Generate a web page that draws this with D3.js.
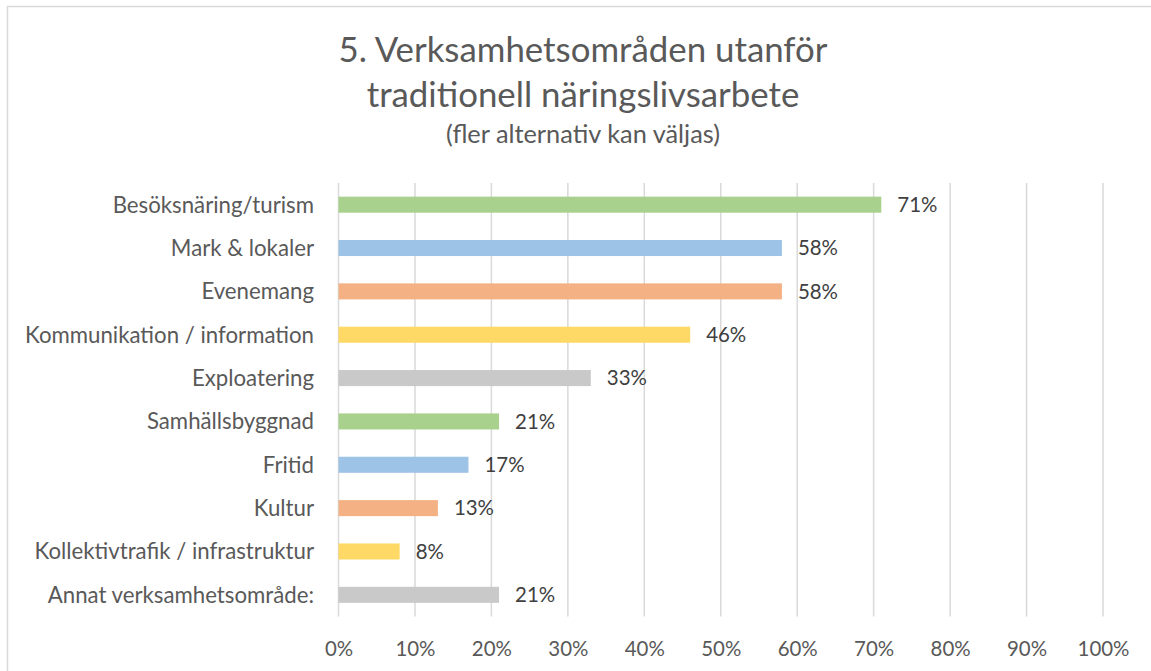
<!DOCTYPE html>
<html>
<head>
<meta charset="utf-8">
<script src="https://cdn.jsdelivr.net/npm/d3@7"></script>
<style>
  html, body { margin: 0; padding: 0; background: #fff; }
  svg { display: block; font-family: Lato, "Open Sans", sans-serif; }
</style>
</head>
<body>
<svg id="chart" width="1151" height="671"></svg>
<script>
const categories = [
  "Besöksnäring/turism",
  "Mark & lokaler",
  "Evenemang",
  "Kommunikation / information",
  "Exploatering",
  "Samhällsbyggnad",
  "Fritid",
  "Kultur",
  "Kollektivtrafik / infrastruktur",
  "Annat verksamhetsområde:"
];
const values = [71, 58, 58, 46, 33, 21, 17, 13, 8, 21];
const barColors = ["#A9D18E", "#9DC3E6", "#F4B183", "#FFD966", "#C9C9C9"];
const tickValues = [0, 10, 20, 30, 40, 50, 60, 70, 80, 90, 100];
const titleLines = ["5. Verksamhetsområden utanför", "traditionell näringslivsarbete"];
const subtitle = "(fler alternativ kan väljas)";

const svg = d3.select("#chart");

// chart border
svg.append("rect")
  .attr("x", 7.5).attr("y", 6.5)
  .attr("width", 1160).attr("height", 700)
  .attr("fill", "#fff").attr("stroke", "#D9D9D9").attr("stroke-width", 1.5);

const plot = { left: 338.5, right: 1103, top: 183, bottom: 616.5 };

const x = d3.scaleLinear().domain([0, 100]).range([plot.left, plot.right]);
const y = d3.scaleBand().domain(categories).range([plot.top, plot.bottom]).paddingInner(0.63).paddingOuter(0.315);

// helper: fit font size so a sample string has a target width
function fitSize(sample, targetWidth) {
  const t = svg.append("text").attr("font-size", 100).text(sample);
  const w = t.node().getComputedTextLength();
  t.remove();
  return 100 * targetWidth / w;
}
const titleSize = fitSize(titleLines[0], 489);
const subSize = fitSize(subtitle, 274);
const catSize = fitSize("Kommunikation / information", 289);
const tickSize = fitSize("100%", 52);

// title
const cx = 583;
svg.append("text").attr("x", cx).attr("y", 62).attr("text-anchor", "middle")
  .attr("font-size", titleSize).attr("fill", "#595959").text(titleLines[0]);
svg.append("text").attr("x", cx).attr("y", 107).attr("text-anchor", "middle")
  .attr("font-size", titleSize).attr("fill", "#595959").text(titleLines[1]);
svg.append("text").attr("x", cx).attr("y", 143).attr("text-anchor", "middle")
  .attr("font-size", subSize).attr("fill", "#595959").text(subtitle);

// gridlines
svg.append("g").selectAll("line").data(tickValues).join("line")
  .attr("x1", d => x(d)).attr("x2", d => x(d))
  .attr("y1", plot.top).attr("y2", plot.bottom)
  .attr("stroke", "#D9D9D9").attr("stroke-width", 1.5);

// x axis tick labels
const xAxis = d3.axisBottom(x).tickValues(tickValues).tickFormat(d => d + "%").tickSize(0).tickPadding(0);
const gx = svg.append("g").attr("transform", `translate(0,${plot.bottom})`).call(xAxis);
gx.select(".domain").remove();
gx.selectAll("text").attr("font-size", tickSize).attr("fill", "#595959")
  .attr("font-family", "Lato, 'Open Sans', sans-serif")
  .attr("dy", null).attr("y", 39);

// y axis category labels
const yAxis = d3.axisLeft(y).tickSize(0).tickPadding(0);
const gy = svg.append("g").attr("transform", `translate(314,0)`).call(yAxis);
gy.select(".domain").remove();
gy.selectAll("text").attr("font-size", catSize).attr("fill", "#595959")
  .attr("font-family", "Lato, 'Open Sans', sans-serif")
  .attr("dy", "0.36em").attr("x", 0);

// bars
svg.append("g").selectAll("rect").data(values).join("rect")
  .attr("x", x(0))
  .attr("y", (d, i) => y(categories[i]))
  .attr("width", d => x(d) - x(0))
  .attr("height", y.bandwidth())
  .attr("fill", (d, i) => barColors[i % barColors.length]);

// data labels
svg.append("g").selectAll("text").data(values).join("text")
  .attr("x", d => x(d) + 16)
  .attr("y", (d, i) => y(categories[i]) + y.bandwidth() / 2)
  .attr("dy", "0.36em")
  .attr("font-size", tickSize)
  .attr("fill", "#404040")
  .text(d => d + "%");
</script>
</body>
</html>
